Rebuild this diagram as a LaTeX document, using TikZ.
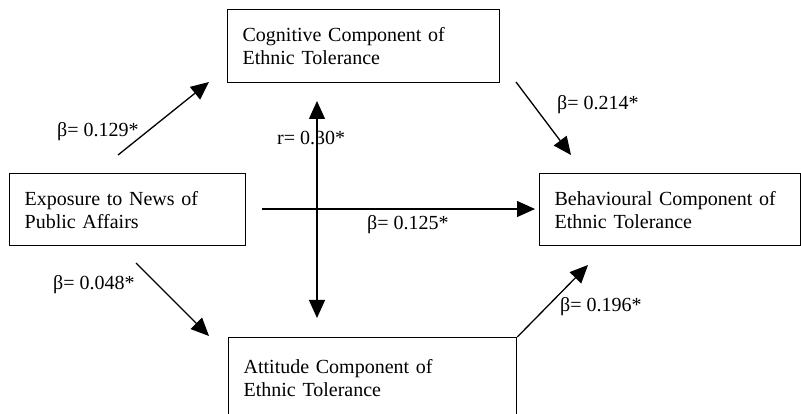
\documentclass[tikz,border=0pt]{standalone}
\usepackage{fontspec}
\setmainfont{Liberation Serif}
\usetikzlibrary{arrows.meta}
\begin{document}
\begin{tikzpicture}[x=1pt,y=-1pt,
  box/.style={draw, line width=1.3pt, rectangle, anchor=north west, align=left,
    font=\fontsize{20}{23}\selectfont, inner xsep=15pt, inner ysep=0pt},
  lbl/.style={anchor=base west, inner sep=0pt, font=\fontsize{20}{23}\selectfont},
  arr/.style={line width=1.3pt, -{Triangle[length=18pt,width=16pt]}},
  darr/.style={line width=1.3pt, {Triangle[length=18pt,width=16pt]}-{Triangle[length=18pt,width=16pt]}}]
\useasboundingbox (0,0) rectangle (801,414);
\fill[white] (0,0) rectangle (801,414);
% boxes
\node[box, text width=242pt, minimum height=73pt] (cog) at (227,9) {Cognitive Component of\\Ethnic Tolerance};
\node[box, text width=206pt, minimum height=72pt] (exp) at (9,173) {Exposure to News of\\Public Affairs};
\node[box, text width=231pt, minimum height=72pt] (beh) at (539,173) {Behavioural Component of\\Ethnic Tolerance};
\node[box, text width=258pt, minimum height=80pt] (att) at (228,337) {Attitude Component of\\Ethnic Tolerance};
% arrow end points
\coordinate (a1s) at (118,155);
\coordinate (a1e) at (209,82);
\coordinate (rt) at (317,101);
\coordinate (rb) at (317,318);
\coordinate (a2s) at (516,82);
\coordinate (a2e) at (571,155);
\coordinate (a3s) at (262,209);
\coordinate (a3e) at (535,209);
\coordinate (a4s) at (136,263);
\coordinate (a4e) at (209,336);
\coordinate (a5e) at (588,265);
% connectors
\draw[arr] (a1s) -- (a1e);
\draw[darr] (rt) -- (rb);
\draw[arr] (a2s) -- (a2e);
\draw[arr] (a3s) -- (a3e);
\draw[arr] (a4s) -- (a4e);
\draw[arr] (att.north east) -- (a5e);
% labels
\node[lbl] (l1) at (57,137) {β= 0.129*};
\node[lbl] (lr) at (277,145) {r= 0.30*};
\node[lbl] (l2) at (557,110) {β= 0.214*};
\node[lbl] (l3) at (367,230) {β= 0.125*};
\node[lbl] (l4) at (53,290) {β= 0.048*};
\node[lbl] (l5) at (560,312) {β= 0.196*};
\end{tikzpicture}
\end{document}
